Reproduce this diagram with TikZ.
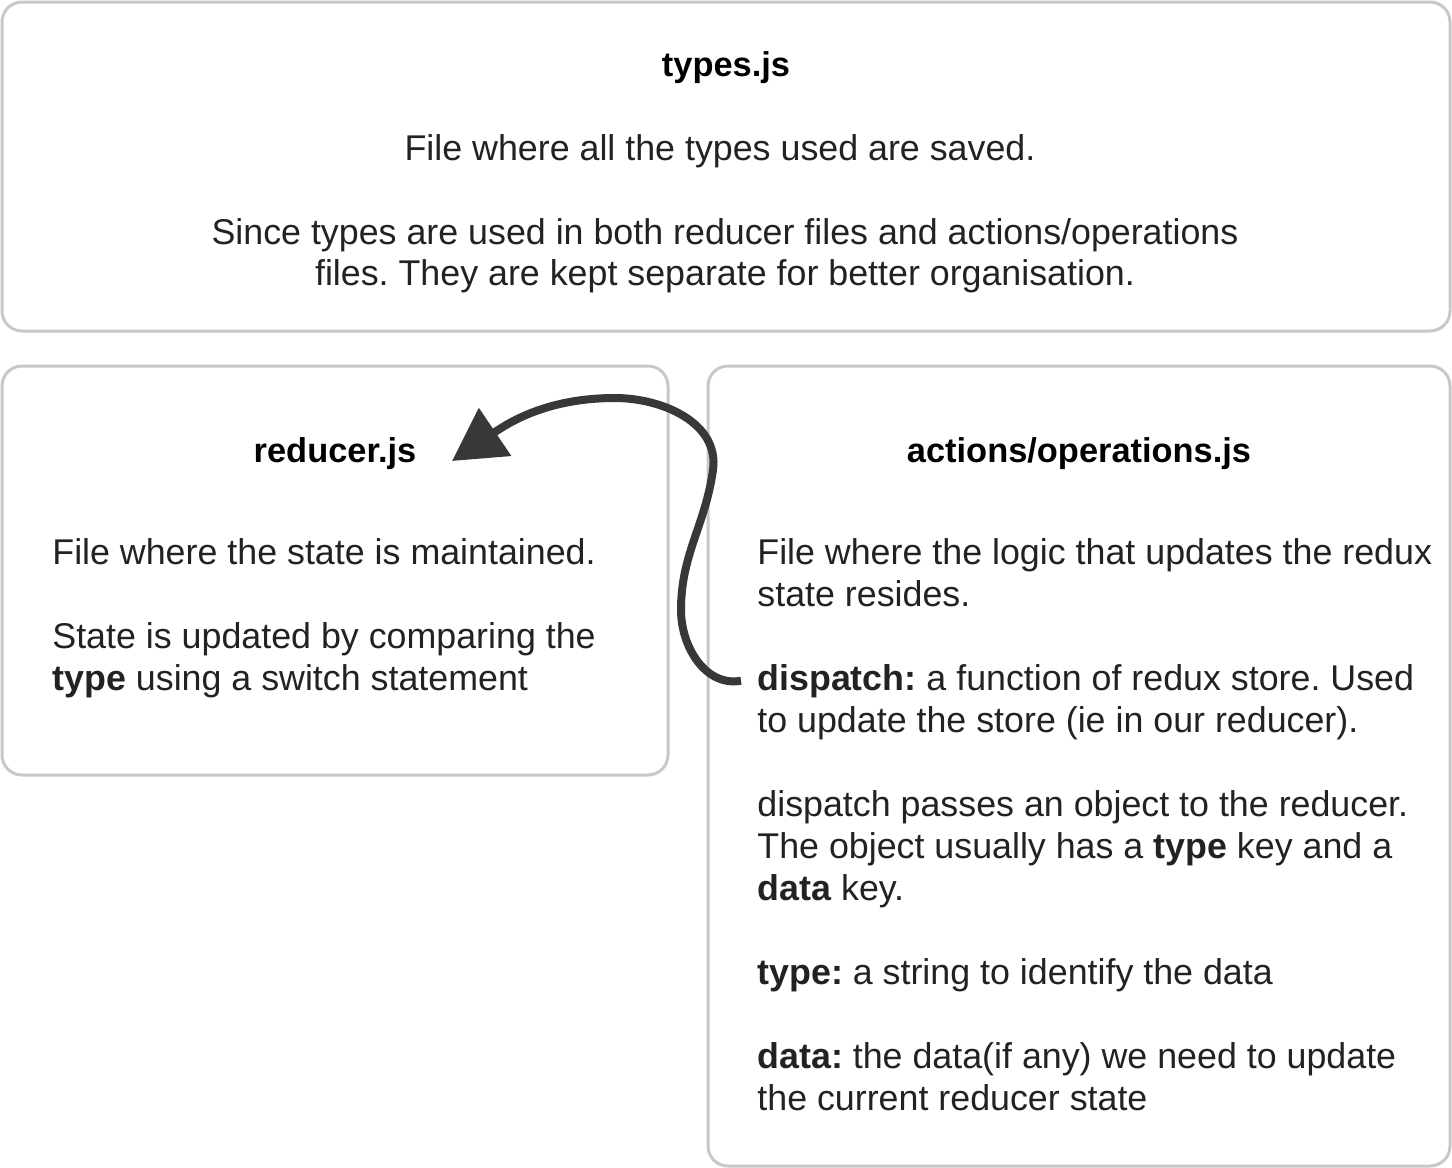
\documentclass[tikz,border=0pt]{standalone}
\usepackage{fontspec}
\setmainfont{Liberation Sans}
\usetikzlibrary{arrows.meta}
\definecolor{ink}{HTML}{222222}
\definecolor{frame}{HTML}{C8C8C8}
\frenchspacing
\begin{document}
\begin{tikzpicture}[x=0.5pt,y=-0.5pt]
\tikzstyle{panel}=[draw=frame, line width=1.5pt, rounded corners=10pt, inner sep=0pt]
\tikzstyle{txt}=[font=\fontsize{17.9}{21}\selectfont, text=ink, inner sep=0pt, anchor=base west]
\tikzstyle{ctr}=[txt, anchor=base]
\tikzstyle{ttl}=[ctr, font=\bfseries\fontsize{17.2}{21}\selectfont, text=black]
\tikzstyle{curvy}=[draw=ink!90, line width=4pt, -{Triangle[length=26pt,width=28pt]}]
\useasboundingbox (0,0) rectangle (1452,1168);
% the three files
\node[panel, minimum width=724pt, minimum height=164.5pt] (types) at (726,166.5) {};
\node[panel, minimum width=333pt, minimum height=204.5pt] (reducer) at (335,570.5) {};
\node[panel, minimum width=371pt, minimum height=400pt] (actions) at (1079,766) {};
% types.js
\node[ttl] (tt) at (726,76) {types.js};
\node[ctr] (t1) at (720,160) {File where all the types used are saved.};
\foreach \y/\t [count=\k from 2] in {244/{Since types are used in both reducer files and actions/operations},
  285/{files. They are kept separate for better organisation.}}
  {\node[ctr] (t\k) at (725,\y) {\t};}
% reducer.js
\node[ttl] (rt) at (335,462) {reducer.js};
\foreach \y/\t [count=\k] in {564/{File where the state is maintained.},
  648/{State is updated by comparing the},
  690/{\textbf{type} using a switch statement}}
  {\node[txt] (r\k) at (52,\y) {\t};}
% actions/operations.js
\node[ttl] (at) at (1079,462) {actions/operations.js};
\foreach \y/\t [count=\k] in {564/{File where the logic that updates the redux},
  606/{state resides.},
  690/{\textbf{dispatch:} a function of redux store. Used},
  732/{to update the store (ie in our reducer).},
  816/{dispatch passes an object to the reducer.},
  858/{The object usually has a \textbf{type} key and a},
  900/{\textbf{data} key.},
  984/{\textbf{type:} a string to identify the data},
  1068/{\textbf{data:} the data(if any) we need to update},
  1110/{the current reducer state}}
  {\node[txt] (a\k) at (757,\y) {\t};}
% dispatch updates the reducer
\coordinate (tip) at (452,461);
\draw[curvy] ([xshift=-8pt]a3.west) to[out=190,in=270] (681,610)
  to[out=90,in=262] (713,470) to[out=82,in=0] (615,398) to[out=180,in=34] (tip);
\end{tikzpicture}
\end{document}
